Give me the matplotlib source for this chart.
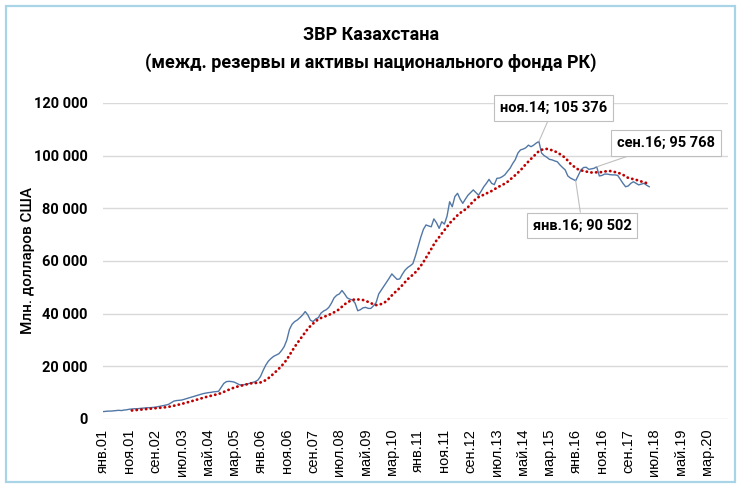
import matplotlib
matplotlib.use("Agg")
import matplotlib.pyplot as plt
import numpy as np
import pandas as pd
from matplotlib.patches import Rectangle


BLUE_COLOR = "#5177A6"
RED_COLOR = "#C00000"
GRID_COLOR = (0.85, 0.85, 0.85)
FRAME_COLOR = "#A9D3E6"
FONT = ["Roboto", "DejaVu Sans"]
TICK_FONT = ["Liberation Sans", "DejaVu Sans"]
MA_WINDOW = 12

# monthly reserves, mln USD, jan.2001 .. may.2018
reserves_2001 = [2800, 2900, 3000, 3000, 3100, 3200, 3300, 3200, 3400, 3500, 3700, 3800]
reserves_2002 = [3900, 3900, 4000, 4100, 4200, 4300, 4300, 4400, 4500, 4700, 4900, 5100]
reserves_2003 = [5300, 5600, 6200, 6800, 7000, 7100, 7200, 7500, 7800, 8100, 8400, 8700]
reserves_2004 = [9000, 9300, 9600, 9800, 10000, 10100, 10300, 10400, 10500, 12000, 13500, 14200]
reserves_2005 = [14300, 14200, 14000, 13500, 13000, 12900, 13100, 13300, 13600, 13900, 14200, 14800]
reserves_2006 = [16200, 18500, 20500, 22000, 23000, 23800, 24300, 24800, 26000, 27500, 30000, 34000]
reserves_2007 = [36000, 37000, 37600, 38500, 39500, 40800, 39500, 37500, 37000, 38000, 38500, 40200]
reserves_2008 = [41000, 41500, 42400, 44000, 46000, 47000, 47500, 48800, 47500, 46000, 45500, 45200]
reserves_2009 = [44000, 41100, 41500, 42200, 42400, 42000, 42000, 43000, 44200, 47500, 49000, 50500]
reserves_2010 = [52000, 53500, 55100, 54000, 53000, 53200, 55000, 56500, 57500, 58200, 59000, 62000]
reserves_2011 = [65500, 69000, 72000, 73700, 73300, 73000, 76000, 74500, 72400, 74900, 74000, 77000]
reserves_2012 = [82500, 80600, 84500, 85700, 83500, 81900, 83500, 85000, 86000, 87000, 86000, 85000]
reserves_2013 = [86500, 88200, 89500, 91000, 89500, 89000, 91400, 91500, 92000, 92700, 94000, 95200]
reserves_2014 = [97000, 98500, 101000, 102200, 102500, 103000, 104000, 103400, 104000, 104800, 105376, 101000]
reserves_2015 = [100000, 99400, 98600, 98400, 98000, 97700, 96500, 95500, 94600, 92300, 91500, 91000]
reserves_2016 = [90502, 92500, 94600, 95500, 95600, 94800, 95000, 95200, 95768, 92300, 92500, 93000]
reserves_2017 = [93000, 92800, 92700, 92700, 92500, 91000, 89500, 88200, 88500, 89500, 90100, 89500]
reserves_2018 = [88900, 89200, 89500, 88800, 88200]

x_tick_labels = ["янв.01", "ноя.01", "сен.02", "июл.03", "май.04", "мар.05",
                 "янв.06", "ноя.06", "сен.07", "июл.08", "май.09", "мар.10",
                 "янв.11", "ноя.11", "сен.12", "июл.13", "май.14", "мар.15",
                 "янв.16", "ноя.16", "сен.17", "июл.18", "май.19", "мар.20"]
y_ticks = [0, 20000, 40000, 60000, 80000, 100000, 120000]
y_tick_labels = ["0", "20 000", "40 000", "60 000", "80 000", "100 000", "120 000"]

# (label, month index) for the called-out points
callouts = [("ноя.14; 105 376", 166), ("янв.16; 90 502", 180), ("сен.16; 95 768", 188)]


def plot():
    values = np.array(reserves_2001 + reserves_2002 + reserves_2003 + reserves_2004
                      + reserves_2005 + reserves_2006 + reserves_2007 + reserves_2008
                      + reserves_2009 + reserves_2010 + reserves_2011 + reserves_2012
                      + reserves_2013 + reserves_2014 + reserves_2015 + reserves_2016
                      + reserves_2017 + reserves_2018, dtype=float)
    months = np.arange(len(values))
    # excel-style moving average trendline
    trend = pd.Series(values).rolling(MA_WINDOW).mean()

    fig = plt.figure(figsize=(7.42, 4.88), dpi=100, facecolor="white")
    fig.patches.append(Rectangle((6 / 742, 6 / 488), 729 / 742, 476 / 488,
                                 transform=fig.transFigure, fill=False,
                                 edgecolor=FRAME_COLOR, linewidth=1.6))

    ax = fig.add_axes([103 / 742, 69 / 488, 625 / 742, 316 / 488])
    ax.plot(months, values, color=BLUE_COLOR, linewidth=1.0, zorder=3)
    ax.plot(months, trend, color=RED_COLOR, linewidth=2.0,
            linestyle=(0, (0.1, 1.6)), dash_capstyle="round", zorder=4)

    ax.set_xlim(0, 238)
    ax.set_ylim(0, 120000)
    ax.set_xticks(np.arange(len(x_tick_labels)) * 10)
    ax.set_xticklabels(x_tick_labels, rotation=90, fontsize=10.5,
                       family=TICK_FONT)
    ax.set_yticks(y_ticks)
    ax.set_yticklabels(y_tick_labels, fontsize=10.5, fontweight="bold", family=FONT)
    ax.tick_params(axis="both", length=0)
    ax.tick_params(axis="y", pad=11)
    ax.tick_params(axis="x", pad=7)
    for s in ax.spines.values():
        s.set_visible(False)
    ax.grid(axis="y", color=GRID_COLOR, linewidth=1.0)
    ax.set_axisbelow(True)

    ax.set_ylabel("Млн. долларов США", fontsize=11, family=FONT, fontweight="medium")
    ax.yaxis.set_label_coords(-0.108, 0.5)

    fig.text(0.5, 1 - 35 / 488, "ЗВР Казахстана", ha="center", va="center",
             fontsize=13, fontweight="bold", family=FONT)
    fig.text(0.5, 1 - 63 / 488, "(межд. резервы и активы национального фонда РК)",
             ha="center", va="center", fontsize=13, fontweight="bold", family=FONT)

    box = dict(boxstyle="square,pad=0.4", facecolor="white", edgecolor="#BFBFBF", linewidth=0.8)
    line = dict(arrowstyle="-", color="#BFBFBF", linewidth=0.8, shrinkA=0, shrinkB=0)
    text_pos = {166: (171.5, 118000), 180: (182.5, 73500), 188: (214.5, 104800)}
    for label, idx in callouts:
        ax.annotate(label, xy=(idx, values[idx]), xytext=text_pos[idx],
                    textcoords="data", ha="center", va="center",
                    fontsize=10.5, fontweight="bold", family=FONT,
                    bbox=box, arrowprops=line, zorder=5, annotation_clip=False)

    fig.savefig("out.png", dpi=100, facecolor="white")


if __name__ == "__main__":
    plot()
